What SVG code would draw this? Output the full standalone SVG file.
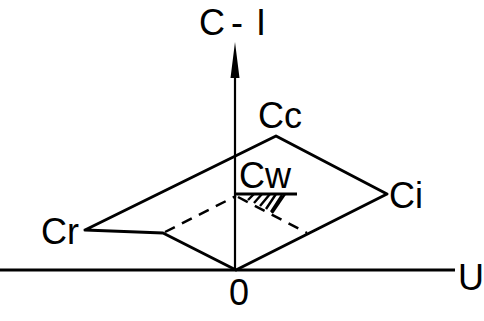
<svg xmlns="http://www.w3.org/2000/svg" width="484" height="321" viewBox="0 0 484 321">
<defs>
<style>
.ax{stroke:#000;stroke-width:2.2;fill:none}
.hx{stroke:#000;stroke-width:3;fill:none}
.ln{stroke:#000;stroke-width:3;fill:none;stroke-linecap:round;stroke-linejoin:round}
.ds{stroke:#000;stroke-width:2.5;fill:none;stroke-dasharray:11 8}
.ht{stroke:#000;stroke-width:2.4;fill:none}
.lb{font-family:"Liberation Sans","DejaVu Sans",sans-serif;font-size:36px;fill:#000}
</style>
</defs>
<rect width="484" height="321" fill="#fff"/>
<g id="connectors">
<line class="hx" x1="0" y1="270" x2="455" y2="270"/>
<path class="ax" d="M235,270 V75"/>
<path d="M235,42 L239.5,78 L230.5,78 Z" fill="#000"/>
<polyline class="ln" points="85,230 276,136 387,194 236,270 163,233 85,230"/>
<line class="ds" x1="165" y1="232" x2="236" y2="196"/>
<line class="ds" x1="238" y1="197" x2="307" y2="233"/>
<line class="hx" x1="236" y1="194" x2="297" y2="194"/>
<path class="ht" d="M285,194 L272,213"/>
<path class="ht" d="M248,200 L254,194 M254,203 L262,194 M260,206 L270,194 M266,209 L276,194 M271,212 L282,195"/>
</g>
<g id="axisC"><text class="lb" y="35" font-size="40"><tspan x="199">C</tspan><tspan x="231">-</tspan><tspan x="256">I</tspan></text></g>
<g id="axisU"><text class="lb" x="458" y="290">U</text></g>
<g id="origin"><text class="lb" x="229" y="305">0</text></g>
<g id="Cc"><text class="lb" x="258" y="128">Cc</text></g>
<g id="Cw"><text class="lb" x="239" y="188">Cw</text></g>
<g id="Ci"><text class="lb" x="389" y="208">Ci</text></g>
<g id="Cr"><text class="lb" x="41" y="244">Cr</text></g>
</svg>
